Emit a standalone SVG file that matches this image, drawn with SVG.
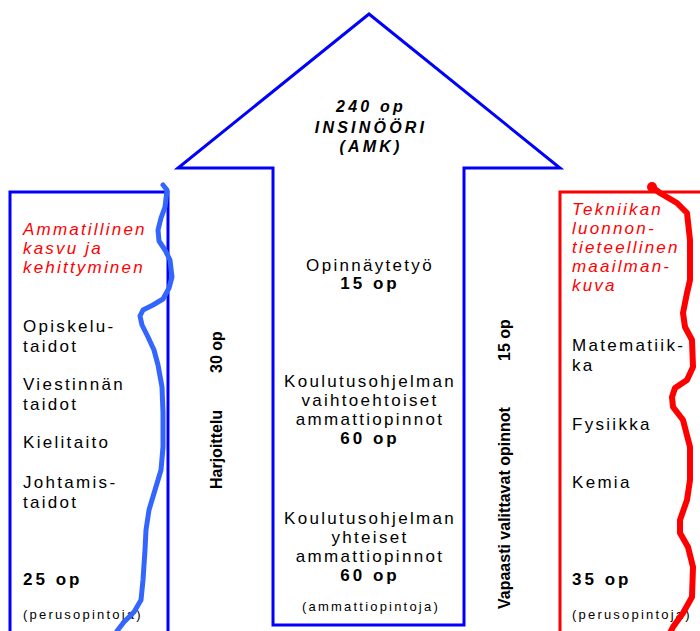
<svg xmlns="http://www.w3.org/2000/svg" width="700" height="631" viewBox="0 0 700 631">
<style>
text{font-family:"Liberation Sans",Arial,sans-serif;fill:#000}
.t{font-size:17px;letter-spacing:2.3px}
.b{font-size:17px;font-weight:bold;letter-spacing:3px}
.s{font-size:13px;letter-spacing:2.2px}
.r{font-size:17px;font-style:italic;fill:#ff0000;letter-spacing:2.2px}
.h{font-size:16px;font-style:italic;font-weight:bold;letter-spacing:3.2px;text-anchor:middle}
.c{text-anchor:middle}
.v{font-size:16px;font-weight:bold}
.blue{fill:none;stroke:#0000ff;stroke-width:3}
.red{fill:none;stroke:#ff0000;stroke-width:3}
</style>
<rect width="700" height="631" fill="#fff"/>
<g id="arrow">
<polygon class="blue" points="273,625 273,168 178,168 369,14 560,168 464,168 464,625"/>
<text class="h" x="371" y="112">240 op</text>
<text class="h" x="371" y="133">INSINÖÖRI</text>
<text class="h" x="371" y="152">(AMK)</text>
<text class="t c" x="370" y="271">Opinnäytetyö</text>
<text class="b c" x="370" y="289">15 op</text>
<text class="t c" x="370" y="387">Koulutusohjelman</text>
<text class="t c" x="370" y="406">vaihtoehtoiset</text>
<text class="t c" x="370" y="425">ammattiopinnot</text>
<text class="b c" x="370" y="444">60 op</text>
<text class="t c" x="370" y="524">Koulutusohjelman</text>
<text class="t c" x="370" y="543">yhteiset</text>
<text class="t c" x="370" y="562">ammattiopinnot</text>
<text class="b c" x="370" y="581">60 op</text>
<text class="s c" x="371" y="611">(ammattiopintoja)</text>
</g>
<g id="left-box">
<rect class="blue" x="10" y="192" width="158" height="460"/>
<text class="r" x="23" y="235">Ammatillinen</text>
<text class="r" x="23" y="254">kasvu ja</text>
<text class="r" x="23" y="273">kehittyminen</text>
<text class="t" x="23" y="332">Opiskelu-</text>
<text class="t" x="23" y="352">taidot</text>
<text class="t" x="23" y="390">Viestinnän</text>
<text class="t" x="23" y="410">taidot</text>
<text class="t" x="23" y="448">Kielitaito</text>
<text class="t" x="23" y="488">Johtamis-</text>
<text class="t" x="23" y="508">taidot</text>
<text class="b" x="23" y="585">25 op</text>
<text class="s" x="23" y="619">(perusopintoja)</text>
</g>
<g id="right-box">
<rect class="red" x="560" y="192" width="160" height="460"/>
<text class="r" x="572" y="215">Tekniikan</text>
<text class="r" x="572" y="234">luonnon-</text>
<text class="r" x="572" y="253">tieteellinen</text>
<text class="r" x="572" y="272">maailman-</text>
<text class="r" x="572" y="291">kuva</text>
<text class="t" x="572" y="351">Matematiik-</text>
<text class="t" x="572" y="371">ka</text>
<text class="t" x="572" y="430">Fysiikka</text>
<text class="t" x="572" y="488">Kemia</text>
<text class="b" x="572" y="585">35 op</text>
<text class="s" x="572" y="619">(perusopintoja)</text>
</g>
<g id="harjoittelu">
<text class="v" transform="translate(222,489) rotate(-90)">Harjoittelu</text>
<text class="v" transform="translate(222,373) rotate(-90)">30 op</text>
</g>
<g id="vapaasti">
<text class="v" transform="translate(510,609) rotate(-90)">Vapaasti valittavat opinnot</text>
<text class="v" transform="translate(510,361) rotate(-90)">15 op</text>
</g>
<g id="connectors" fill="none" stroke-linejoin="round" stroke-linecap="round">
<polyline stroke="#3366ff" stroke-width="5" points="163,185 167,190 165,207 161,218 158,230 159,241 165,250 170,260 172,277 169,288 163,299 153,305 143,310 140,316 142,325 148,337 154,350 158,365 162,387 163,413 163,447 161,470 155,490 149,510 146,530 145,550 143,580 141,600 134,612 124,622 117,631"/>
<polyline stroke="#ff0000" stroke-width="6" points="652,187 660,193 677,203 687,213 690,240 690,280 687,293 683,313 685,327 692,340 693,367 687,380 675,388 672,397 673,407 683,420 690,447 690,480 687,500 680,520 680,533 688,547 693,567 692,597 683,613 673,627 670,633"/>
<circle cx="652" cy="187" r="5" fill="#ff0000"/>
</g>
</svg>
